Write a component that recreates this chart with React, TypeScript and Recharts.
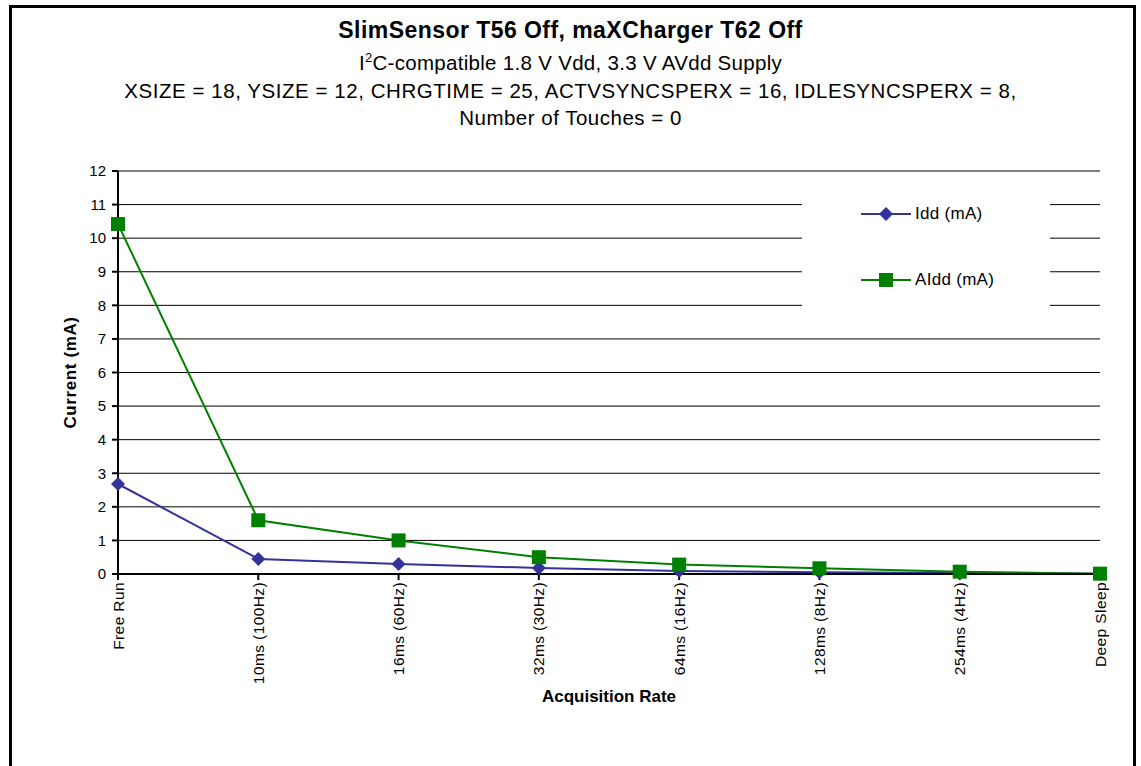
import { CartesianGrid, Line, LineChart, XAxis, YAxis } from 'recharts';

const categories = [
  'Free Run',
  '10ms (100Hz)',
  '16ms (60Hz)',
  '32ms (30Hz)',
  '64ms (16Hz)',
  '128ms (8Hz)',
  '254ms (4Hz)',
  'Deep Sleep',
];
const iddValues = [2.68, 0.45, 0.3, 0.18, 0.09, 0.05, 0.03, 0.01];
const aiddValues = [10.42, 1.6, 1.0, 0.5, 0.28, 0.17, 0.07, 0.01];
const yTicks = [0, 1, 2, 3, 4, 5, 6, 7, 8, 9, 10, 11, 12];

const IDD_COLOR = '#333399';
const AIDD_COLOR = '#008000';
const FONT = '"Liberation Sans", Arial, Helvetica, sans-serif';

const data = categories.map((name, i) => ({
  name,
  idd: iddValues[i],
  aidd: aiddValues[i],
}));

const Diamond = (props: any) => {
  const { cx, cy } = props;
  if (cx == null || cy == null) return null;
  const r = 7;
  return (
    <path
      d={`M${cx},${cy - r} L${cx + r},${cy} L${cx},${cy + r} L${cx - r},${cy} Z`}
      fill={IDD_COLOR}
    />
  );
};

const Square = (props: any) => {
  const { cx, cy } = props;
  if (cx == null || cy == null) return null;
  const s = 7;
  return <rect x={cx - s} y={cy - s} width={s * 2} height={s * 2} fill={AIDD_COLOR} />;
};

const XTick = (props: any) => {
  const { x, y, payload } = props;
  return (
    <text
      x={x}
      y={y}
      transform={`rotate(-90, ${x}, ${y})`}
      textAnchor="end"
      dominantBaseline="central"
      fontSize={15.5}
      letterSpacing={0.4}
      fontFamily={FONT}
      fill="#000"
    >
      {payload.value}
    </text>
  );
};

// legend sits over the gridlines on a white box, like the original
const LegendBox = () => (
  <div
    style={{
      position: 'absolute',
      left: 802,
      top: 190,
      width: 248,
      height: 125,
      background: '#fff',
      fontFamily: FONT,
      fontSize: 17,
      letterSpacing: 0.3,
    }}
  >
    {[
      { label: 'Idd (mA)', color: IDD_COLOR, top: 24, shape: 'diamond' },
      { label: 'AIdd (mA)', color: AIDD_COLOR, top: 90, shape: 'square' },
    ].map((item) => (
      <div
        key={item.label}
        style={{
          position: 'absolute',
          left: 59,
          top: item.top - 10,
          display: 'flex',
          alignItems: 'center',
          height: 20,
        }}
      >
        <svg width={52} height={20}>
          <line x1={0} y1={10} x2={50} y2={10} stroke={item.color} strokeWidth={2} />
          {item.shape === 'diamond' ? (
            <path d="M25,3 L32,10 L25,17 L18,10 Z" fill={item.color} />
          ) : (
            <rect x={18} y={3} width={14} height={14} fill={item.color} />
          )}
        </svg>
        <span style={{ marginLeft: 2, color: '#000' }}>{item.label}</span>
      </div>
    ))}
  </div>
);

export default function App() {
  return (
    <div
      style={{
        position: 'absolute',
        left: 0,
        top: 0,
        width: 1141,
        height: 766,
        overflow: 'hidden',
        background: '#fff',
        fontFamily: FONT,
      }}
    >
      <div
        style={{
          position: 'absolute',
          left: 9,
          top: 5,
          width: 1121,
          height: 820,
          border: '3px solid #000',
        }}
      />
      <div
        style={{
          position: 'absolute',
          top: 15,
          width: 1141,
          textAlign: 'center',
          color: '#000',
          letterSpacing: 0.3,
        }}
      >
        <div style={{ fontSize: 23, fontWeight: 'bold', lineHeight: '30px', letterSpacing: 0.45 }}>
          SlimSensor T56 Off, maXCharger T62 Off
        </div>
        <div style={{ fontSize: 20.5, lineHeight: '29px', marginTop: 3 }}>
          I
          <sup style={{ fontSize: 13, verticalAlign: 'top', lineHeight: '20px' }}>2</sup>
          C-compatible 1.8 V Vdd, 3.3 V AVdd Supply
        </div>
        <div style={{ fontSize: 20.5, lineHeight: '28px', letterSpacing: 0.55 }}>
          XSIZE = 18, YSIZE = 12, CHRGTIME = 25, ACTVSYNCSPERX = 16, IDLESYNCSPERX = 8,
        </div>
        <div style={{ fontSize: 20.5, lineHeight: '26px', letterSpacing: 0.5 }}>
          Number of Touches = 0
        </div>
      </div>
      <div style={{ position: 'absolute', left: 0, top: 0 }}>
        <LineChart
          width={1141}
          height={766}
          data={data}
          margin={{ top: 171, right: 41, left: 58, bottom: 72 }}
        >
          <CartesianGrid yAxisId="left" vertical={false} stroke="#000" strokeWidth={1} />
          <XAxis
            dataKey="name"
            height={120}
            interval={0}
            stroke="#000"
            strokeWidth={2}
            tickSize={6}
            tick={<XTick />}
            label={{
              content: (p: any) => {
                const vb = p.viewBox;
                return (
                  <text
                    x={vb.x + vb.width / 2}
                    y={702}
                    textAnchor="middle"
                    fontSize={17}
                    fontWeight="bold"
                    fontFamily={FONT}
                    fill="#000"
                  >
                    Acquisition Rate
                  </text>
                );
              },
            }}
          />
          <XAxis
            xAxisId="top"
            dataKey="name"
            orientation="top"
            height={0}
            tick={false}
            tickLine={false}
            stroke="#000"
            strokeWidth={2}
          />
          <YAxis
            yAxisId="left"
            width={60}
            domain={[0, 12]}
            ticks={yTicks}
            interval={0}
            stroke="#000"
            strokeWidth={2}
            tickSize={6}
            tickMargin={6}
            tick={{ fill: '#000', fontSize: 15, fontFamily: FONT }}
            label={{
              content: (p: any) => {
                const vb = p.viewBox;
                const x = 76;
                const y = vb.y + vb.height / 2;
                return (
                  <text
                    x={x}
                    y={y}
                    transform={`rotate(-90, ${x}, ${y})`}
                    textAnchor="middle"
                    fontSize={17}
                    letterSpacing={0.6}
                    fontWeight="bold"
                    fontFamily={FONT}
                    fill="#000"
                  >
                    Current (mA)
                  </text>
                );
              },
            }}
          />
          <YAxis
            yAxisId="right"
            orientation="right"
            width={0}
            domain={[0, 12]}
            tick={false}
            tickLine={false}
            stroke="#000"
            strokeWidth={1.5}
          />
          <Line
            yAxisId="left"
            dataKey="idd"
            name="Idd (mA)"
            type="linear"
            stroke={IDD_COLOR}
            strokeWidth={2}
            dot={<Diamond />}
            activeDot={false}
            isAnimationActive={false}
          />
          <Line
            yAxisId="left"
            dataKey="aidd"
            name="AIdd (mA)"
            type="linear"
            stroke={AIDD_COLOR}
            strokeWidth={2}
            dot={<Square />}
            activeDot={false}
            isAnimationActive={false}
          />
        </LineChart>
      </div>
      <LegendBox />
    </div>
  );
}
